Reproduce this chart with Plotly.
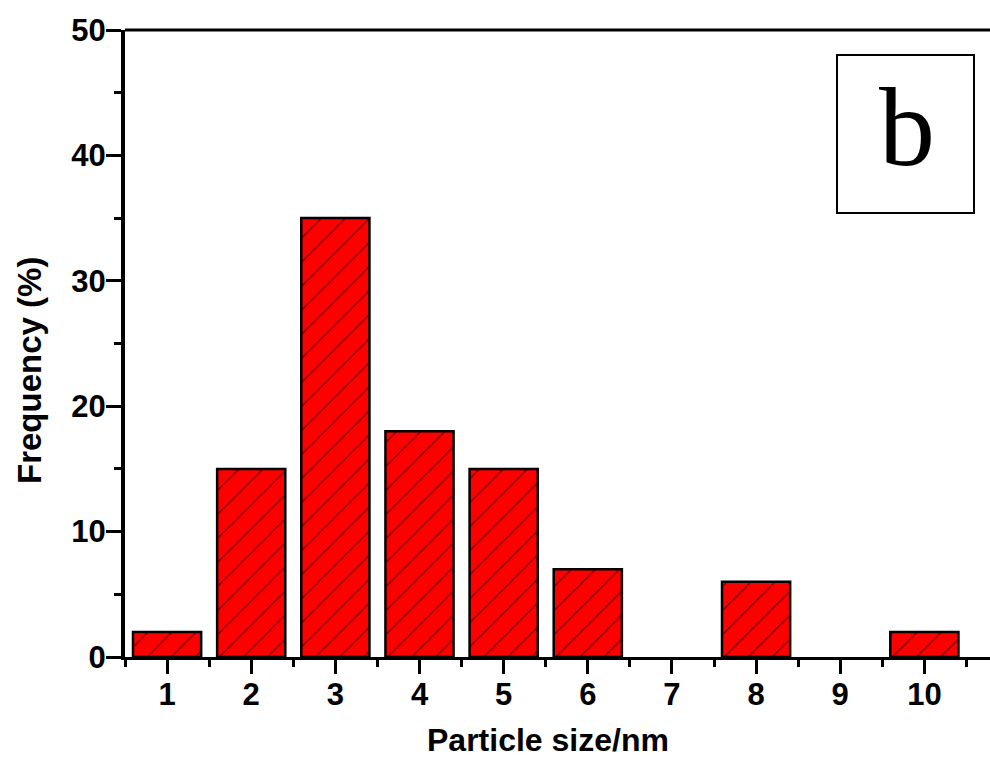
import plotly.graph_objects as go

sizes = [1, 2, 3, 4, 5, 6, 7, 8, 9, 10]
freq = [2, 15, 35, 18, 15, 7, 0, 6, 0, 2]
x_ticks = [1, 2, 3, 4, 5, 6, 7, 8, 9, 10]
y_ticks = [0, 10, 20, 30, 40, 50]

L, T, B, R = 125, 30, 103, 0
W, H = 990, 760
pw, ph = W - L - R, H - T - B

FONT = "Arial, 'Liberation Sans', sans-serif"


def px_x(p):
    return (p - L) / pw


def px_y(p):
    return (H - B - p) / ph


# no outline for empty bins
line_widths = [2.5 if v > 0 else 0 for v in freq]

fig = go.Figure()
fig.add_trace(go.Bar(
    x=sizes, y=freq, width=0.81,
    marker=dict(color="#ff0000",
                line=dict(color="black", width=line_widths),
                pattern=dict(shape="/", fgcolor="black", bgcolor="#ff0000",
                             size=17, solidity=0.08)),
    showlegend=False,
))

tick_font = dict(size=31, weight="bold", family=FONT, color="black")

fig.update_layout(
    width=W, height=H,
    margin=dict(l=L, r=R, t=T, b=B),
    paper_bgcolor="white", plot_bgcolor="white",
    font=dict(family=FONT, color="black"),
    xaxis=dict(
        range=[0.5, 10.78], tickvals=x_ticks, ticktext=[str(v) for v in x_ticks],
        ticks="outside", ticklen=14, tickwidth=2.5, tickcolor="black",
        minor=dict(tick0=0.5, dtick=1, ticks="outside", ticklen=7, tickwidth=2.5, tickcolor="black"),
        showline=True, linecolor="black", linewidth=2.5, showgrid=False, zeroline=False,
        tickfont=tick_font,
        ticklabelstandoff=-6,
    ),
    yaxis=dict(
        range=[0, 50], tickvals=y_ticks, ticktext=[str(v) for v in y_ticks],
        ticks="outside", ticklen=15, tickwidth=2.5, tickcolor="black",
        minor=dict(tick0=5, dtick=10, ticks="outside", ticklen=7, tickwidth=2.5, tickcolor="black"),
        showline=True, linecolor="black", linewidth=4, showgrid=False, zeroline=False,
        tickfont=tick_font,
        ticklabelstandoff=-6,
    ),
    shapes=[
        dict(type="line", xref="paper", yref="paper", x0=0, x1=1, y0=1, y1=1,
             line=dict(color="black", width=3)),
        dict(type="rect", xref="paper", yref="paper",
             x0=px_x(837), x1=px_x(974), y0=px_y(213), y1=px_y(55),
             line=dict(color="black", width=2), fillcolor="white"),
    ],
    annotations=[
        dict(text="Particle size/nm", xref="paper", yref="paper",
             x=px_x(548), y=px_y(759), xanchor="center", yanchor="bottom",
             showarrow=False, borderpad=0,
             font=dict(size=32, weight="bold", family=FONT, color="black")),
        dict(text="Frequency (%)", xref="paper", yref="paper",
             x=px_x(29), y=px_y(371), xanchor="center", yanchor="middle",
             textangle=-90, showarrow=False,
             font=dict(size=33, weight="bold", family=FONT, color="black")),
        dict(text="b", xref="paper", yref="paper",
             x=px_x(907), y=px_y(127), xanchor="center", yanchor="middle",
             showarrow=False,
             font=dict(family="'Times New Roman', 'Liberation Serif', serif", size=112, color="black")),
    ],
)

fig.write_html("out.html")
